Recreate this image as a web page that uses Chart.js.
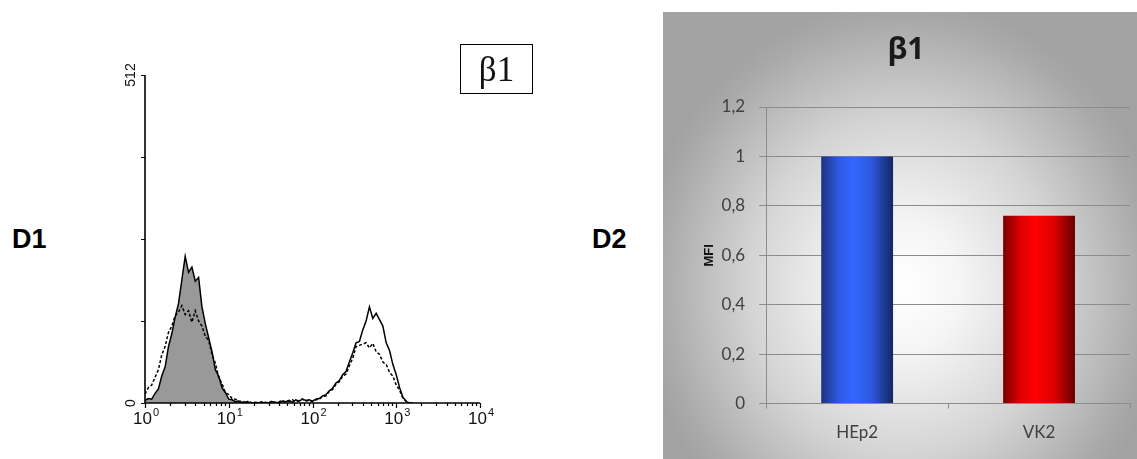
<!DOCTYPE html>
<html>
<head>
<meta charset="utf-8">
<script src="https://cdn.jsdelivr.net/npm/chart.js@4.4.1/dist/chart.umd.min.js"></script>
<style>
html, body { margin: 0; padding: 0; background: #fff; }
body { width: 1137px; height: 459px; position: relative; overflow: hidden; font-family: "Liberation Sans", Arial, sans-serif; }
.tag { position: absolute; top: 226px; font-size: 27px; font-weight: bold; line-height: 27px; color: #000; }
#histWrap { position: absolute; left: 100px; top: 40px; width: 460px; height: 410px; }
#betaBox { position: absolute; left: 460px; top: 44px; width: 71px; height: 48px; border: 1.5px solid #000;
  display: flex; align-items: center; justify-content: center;
  font-family: "Liberation Serif", "DejaVu Serif", serif; font-size: 35px; line-height: 35px; color: #111; }
#barWrap { position: absolute; left: 663px; top: 12px; width: 474px; height: 447px;
  background: radial-gradient(ellipse 265px 290px at 240px 275px, #ffffff 0%, #f5f5f5 22%, #d4d4d4 58%, #a9a9a9 92%, #a2a2a2 100%); }
</style>
</head>
<body>
<div class="tag" style="left:12px">D1</div>
<div class="tag" style="left:592px">D2</div>

<div id="histWrap"><canvas id="histChart"></canvas></div>
<div id="betaBox">β1</div>

<div id="barWrap"><canvas id="barChart"></canvas></div>

<script>
// ====== Data: flow cytometry histogram (x in decades, 10^0 .. 10^4) ======
const histDecades = [0, 1, 2, 3, 4];
const histYTicks = [0, 128, 256, 384, 512];
const histYLabels = ['0', '512'];

const binsLow = [0.00, 0.04, 0.08, 0.12, 0.16, 0.20, 0.24, 0.28, 0.32, 0.36, 0.40, 0.44, 0.48, 0.52, 0.56,
  0.60, 0.64, 0.68, 0.72, 0.76, 0.80, 0.84, 0.88, 0.92, 0.96, 1.00, 1.04, 1.08, 1.12, 1.16, 1.20];
const controlHEp2 = [4, 7, 6, 15, 22, 42, 56, 88, 108, 134, 155, 192, 229, 204, 212,
  190, 196, 150, 124, 102, 80, 52, 42, 24, 16, 6, 5, 2, 3, 1, 0];
const controlVK2 = [14, 24, 28, 40, 52, 75, 88, 110, 120, 136, 142, 152, 138, 144, 126,
  144, 128, 120, 104, 98, 76, 62, 40, 30, 16, 13, 7, 6, 2, 3, 1];

const binsHigh = [1.20, 1.24, 1.28, 1.32, 1.36, 1.40, 1.44, 1.48, 1.52, 1.56, 1.60, 1.64, 1.68, 1.72, 1.76,
  1.80, 1.84, 1.88, 1.92, 1.96, 2.00, 2.04, 2.08, 2.12, 2.16, 2.20, 2.24, 2.28, 2.32, 2.36, 2.40, 2.44,
  2.48, 2.52, 2.56, 2.60, 2.64, 2.68, 2.72, 2.76, 2.80, 2.84, 2.88, 2.92, 2.96, 3.00, 3.04, 3.08, 3.12,
  3.16, 3.20];
const hep2Beta1 = [2, 1, 0, 1, 0, 0, 1, 0, 2, 1, 0, 3, 2, 4, 1, 5, 3, 6, 4, 5,
  3, 6, 7, 11, 13, 19, 23, 31, 35, 44, 49, 64, 78, 94, 96, 114, 128, 150, 132, 140, 130, 120, 94, 82,
  60, 44, 24, 9, 2, 0, 0];
const vk2Beta1 = [1, 3, 0, 0, 1, 2, 0, 1, 3, 0, 2, 4, 1, 3, 5, 2, 4, 6, 3, 4,
  2, 5, 6, 10, 11, 18, 21, 29, 33, 42, 45, 58, 70, 88, 90, 92, 94, 86, 93, 80, 76, 64, 60, 48,
  42, 28, 20, 7, 3, 0, 0];

// ====== Data: MFI bar chart ======
const cellLines = ['HEp2', 'VK2'];
const mfiValues = [1.0, 0.76];
const mfiTickLabels = ['0', '0,2', '0,4', '0,6', '0,8', '1', '1,2'];

const pts = (xs, ys) => xs.map((x, i) => ({ x: x, y: ys[i] }));

// ====== Histogram axes (drawn from the chart scales) ======
const histAxes = {
    id: 'histAxes',
    afterDatasetsDraw(chart) {
        const { ctx, scales: { x, y } } = chart;
        const x0 = x.getPixelForValue(0);
        const y0 = y.getPixelForValue(0);
        const xEnd = x.getPixelForValue(histDecades[histDecades.length - 1]);
        ctx.save();
        ctx.strokeStyle = '#000';
        ctx.lineWidth = 1.6;
        ctx.beginPath();
        ctx.moveTo(x0, y.getPixelForValue(histYTicks[histYTicks.length - 1]));
        ctx.lineTo(x0, y0);
        ctx.lineTo(xEnd, y0);
        ctx.stroke();

        ctx.lineWidth = 1.2;
        ctx.beginPath();
        histYTicks.forEach(v => {
            const py = Math.round(y.getPixelForValue(v)) + 0.5;
            ctx.moveTo(x0 - 4, py);
            ctx.lineTo(x0, py);
        });
        for (let d = 0; d < histDecades.length - 1; d++) {
            for (let k = 1; k <= 9; k++) {
                const px = Math.round(x.getPixelForValue(d + Math.log10(k))) + 0.5;
                ctx.moveTo(px, y0);
                ctx.lineTo(px, y0 + (k === 1 ? 5 : 3));
            }
        }
        ctx.moveTo(Math.round(xEnd) + 0.5, y0);
        ctx.lineTo(Math.round(xEnd) + 0.5, y0 + 5);
        ctx.stroke();

        // x tick labels 10^n
        ctx.fillStyle = '#111';
        ctx.textBaseline = 'alphabetic';
        histDecades.forEach(d => {
            const px = x.getPixelForValue(d);
            ctx.font = '17px "Liberation Sans", Arial, sans-serif';
            const wBase = ctx.measureText('10').width;
            ctx.font = '11px "Liberation Sans", Arial, sans-serif';
            const wExp = ctx.measureText(String(d)).width;
            const left = px - (wBase + wExp + 1) / 2 + 1;
            ctx.font = '17px "Liberation Sans", Arial, sans-serif';
            ctx.textAlign = 'left';
            ctx.fillText('10', left, y0 + 21);
            ctx.font = '11px "Liberation Sans", Arial, sans-serif';
            ctx.fillText(String(d), left + wBase + 1, y0 + 13);
        });

        // y labels, rotated
        ctx.font = '14px "Liberation Sans", Arial, sans-serif';
        ctx.textAlign = 'center';
        ctx.textBaseline = 'middle';
        [histYTicks[0], histYTicks[histYTicks.length - 1]].forEach((v, i) => {
            ctx.save();
            ctx.translate(x0 - 14, y.getPixelForValue(v));
            ctx.rotate(-Math.PI / 2);
            ctx.fillText(histYLabels[i], 0, 0);
            ctx.restore();
        });
        ctx.restore();
    }
};

new Chart(document.getElementById('histChart'), {
    type: 'line',
    data: {
        datasets: [
            {
                label: 'HEp2 control',
                data: pts(binsLow, controlHEp2),
                borderColor: '#000',
                backgroundColor: '#999999',
                borderWidth: 1.5,
                fill: 'origin',
                pointRadius: 0,
                order: 2
            },
            {
                label: 'VK2 control',
                data: pts(binsLow, controlVK2),
                borderColor: '#000',
                borderWidth: 1.5,
                borderDash: [3, 2],
                fill: false,
                pointRadius: 0,
                order: 1
            },
            {
                label: 'HEp2 β1',
                data: pts(binsHigh, hep2Beta1),
                borderColor: '#000',
                borderWidth: 1.5,
                fill: false,
                pointRadius: 0,
                order: 1
            },
            {
                label: 'VK2 β1',
                data: pts(binsHigh, vk2Beta1),
                borderColor: '#000',
                borderWidth: 1.5,
                borderDash: [3, 2],
                fill: false,
                pointRadius: 0,
                order: 1
            }
        ]
    },
    options: {
        responsive: true,
        maintainAspectRatio: false,
        animation: false,
        layout: { padding: { left: 45, top: 35, right: 80, bottom: 47 } },
        plugins: { legend: { display: false }, tooltip: { enabled: false } },
        scales: {
            x: { type: 'linear', min: 0, max: 4, display: false },
            y: { min: 0, max: 512, display: false }
        }
    },
    plugins: [histAxes]
});

// ====== Bar chart with shaded bars ======
const BAR_PCT = 0.395;
const barShades = [
    ['#1d3380', '#2f5ae6', '#3366ff', '#2d58e0', '#152663'],
    ['#7a0000', '#e00000', '#ff0000', '#e00000', '#660000']
];
function barFill(c) {
    const chart = c.chart;
    const xs = chart.scales.x;
    const shades = barShades[c.dataIndex % barShades.length];
    if (!xs || !chart.chartArea) return shades[2];
    const cx = xs.getPixelForValue(c.dataIndex);
    const half = (xs.width / cellLines.length) * BAR_PCT / 2;
    const g = chart.ctx.createLinearGradient(cx - half, 0, cx + half, 0);
    g.addColorStop(0, shades[0]);
    g.addColorStop(0.25, shades[1]);
    g.addColorStop(0.45, shades[2]);
    g.addColorStop(0.7, shades[3]);
    g.addColorStop(1, shades[4]);
    return g;
}

// Excel-style title sits a little left of the canvas centre
const titleNudge = {
    id: 'titleNudge',
    afterLayout(chart) {
        const t = chart.titleBlock;
        if (t) { t.left -= 8; t.right -= 8; }
    }
};

new Chart(document.getElementById('barChart'), {
    type: 'bar',
    data: {
        labels: cellLines,
        datasets: [{
            label: 'MFI',
            data: mfiValues,
            backgroundColor: barFill,
            borderWidth: 0,
            categoryPercentage: 1,
            barPercentage: BAR_PCT
        }]
    },
    options: {
        responsive: true,
        maintainAspectRatio: false,
        animation: false,
        layout: { padding: { left: 35, right: 7, top: 0, bottom: 2 } },
        plugins: {
            legend: { display: false },
            tooltip: { enabled: false },
            title: {
                display: true,
                text: 'β1',
                color: '#1a1a1a',
                font: { size: 30, weight: 'bold', family: '"Open Sans", sans-serif' },
                padding: { top: 20, bottom: 39 }
            }
        },
        scales: {
            y: {
                min: 0,
                max: 1.2,
                ticks: {
                    stepSize: 0.2,
                    padding: 14,
                    color: '#404040',
                    font: { size: 17, family: 'Lato, "Open Sans", sans-serif' },
                    callback: (v, i) => mfiTickLabels[i]
                },
                grid: { color: '#8c8c8c', tickLength: 7 },
                border: { color: '#8c8c8c' },
                title: {
                    display: true,
                    text: 'MFI',
                    color: '#111',
                    font: { size: 13, weight: 'bold', family: '"Liberation Sans", Arial, sans-serif' },
                    padding: { top: 4, bottom: -10 }
                }
            },
            x: {
                grid: { drawOnChartArea: false, tickLength: 5, color: '#8c8c8c' },
                border: { color: '#8c8c8c' },
                ticks: {
                    padding: 14,
                    color: '#404040',
                    font: { size: 17, family: 'Lato, "Open Sans", sans-serif' }
                }
            }
        }
    },
    plugins: [titleNudge]
});
</script>
</body>
</html>
